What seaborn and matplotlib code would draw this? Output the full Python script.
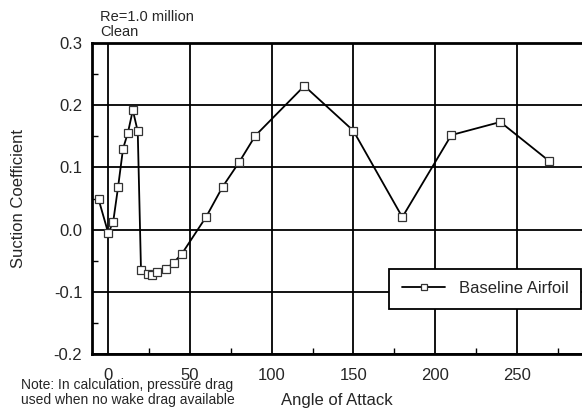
import matplotlib
matplotlib.use("Agg")
import matplotlib.pyplot as plt
import seaborn as sns
import pandas as pd
from matplotlib.ticker import MultipleLocator

angle = [-6, 0, 3, 6, 9, 12, 15, 18, 20, 24, 27, 30, 35, 40, 45,
         60, 70, 80, 90, 120, 150, 180, 210, 240, 270]
suction = [0.049, -0.006, 0.013, 0.069, 0.130, 0.156, 0.192, 0.158, -0.065,
           -0.072, -0.073, -0.068, -0.064, -0.053, -0.039,
           0.021, 0.069, 0.108, 0.151, 0.231, 0.159, 0.020, 0.152, 0.173, 0.110]
series_name = "Baseline Airfoil"
x_ticks = [0, 50, 100, 150, 200, 250]
y_ticks = [-0.2, -0.1, 0.0, 0.1, 0.2, 0.3]
y_tick_labels = ["-0.2", "-0.1", "0.0", "0.1", "0.2", "0.3"]

df = pd.DataFrame({"Angle of Attack": angle, "Suction Coefficient": suction,
                   "series": series_name})

sns.set_style("white")
plt.rcParams["font.family"] = ["Liberation Sans", "DejaVu Sans"]

fig = plt.figure(figsize=(5.82, 4.08), dpi=100)
ax = fig.add_axes([92 / 582, 1 - 354 / 408, 490 / 582, 311 / 408])

sns.lineplot(data=df, x="Angle of Attack", y="Suction Coefficient", hue="series",
             palette=["black"], marker="s", markersize=5.5, markerfacecolor="white",
             markeredgecolor="#333333", markeredgewidth=0.9, linewidth=1.3,
             ax=ax, legend=True, sort=False)

ax.set_xlim(-10, 290)
ax.set_ylim(-0.2, 0.3)
ax.set_xticks(x_ticks)
ax.set_yticks(y_ticks)
ax.set_yticklabels(y_tick_labels)
ax.xaxis.set_minor_locator(MultipleLocator(25))
ax.yaxis.set_minor_locator(MultipleLocator(0.05))
ax.grid(True, which="major", color="black", linewidth=1.3)
ax.tick_params(which="major", direction="in", length=0, labelsize=12)
ax.tick_params(axis="x", which="major", pad=10)
ax.tick_params(axis="y", which="major", pad=7)
ax.tick_params(which="minor", direction="in", length=4, width=1.0, color="black")
ax.tick_params(axis="x", which="both", bottom=True)
ax.tick_params(axis="y", which="both", left=True)

for side in ["left", "bottom", "top"]:
    ax.spines[side].set_visible(True)
    ax.spines[side].set_color("black")
    ax.spines[side].set_linewidth(2.0)
ax.spines["right"].set_visible(False)

ax.set_xlabel("Angle of Attack", fontsize=12, va="center")
ax.xaxis.set_label_coords(0.5, (354 - 400) / 311)
ax.set_ylabel("Suction Coefficient", fontsize=12, va="center")
ax.yaxis.set_label_coords((19 - 92) / 490, 0.5)

leg = ax.legend(loc="center left", bbox_to_anchor=(0.607, 0.21), frameon=True,
                fancybox=False, edgecolor="black", fontsize=12, handlelength=2.6,
                borderpad=0.75, borderaxespad=0)
leg.get_frame().set_linewidth(1.3)
leg.get_frame().set_facecolor("white")
leg.get_frame().set_alpha(1)
for h in leg.legend_handles:
    h.set_markersize(5)

fig.text(100 / 582, 1 - 17 / 408, "Re=1.0 million", fontsize=10.5, va="center", ha="left")
fig.text(100 / 582, 1 - 32 / 408, "Clean", fontsize=10.5, va="center", ha="left")
fig.text(21 / 582, 1 - 385 / 408, "Note: In calculation, pressure drag", fontsize=10,
         va="center", ha="left")
fig.text(21 / 582, 1 - 400 / 408, "used when no wake drag available", fontsize=10,
         va="center", ha="left")

fig.savefig("out.png", dpi=100)
